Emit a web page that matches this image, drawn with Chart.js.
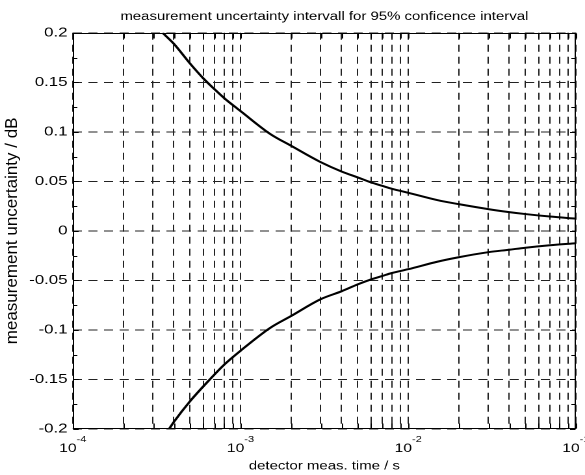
<!DOCTYPE html>
<html>
<head>
<meta charset="utf-8">
<title>measurement uncertainty intervall</title>
<script src="https://cdn.jsdelivr.net/npm/chart.js@4.4.1/dist/chart.umd.min.js"></script>
<style>
    html, body { margin: 0; padding: 0; background: #fff; }
    /* the reference is a horizontally stretched MATLAB figure: draw narrow, then widen */
    #wrap { width: 450px; height: 475px; transform: scaleX(1.3); transform-origin: 0 0; }
</style>
</head>
<body>
<div id="wrap"><canvas id="chart"></canvas></div>
<script>
(function () {
    'use strict';

    const FONT = "'Liberation Sans', Arial, Helvetica, sans-serif";
    const STRETCH = 1.3;

    // ── Data ────────────────────────────────────────────────────
    const upperTime = [3.43e-4, 4e-4, 5e-4, 6e-4, 7e-4, 8e-4, 9e-4, 1e-3, 1.5e-3, 2e-3, 3e-3, 4e-3,
                       5e-3, 6e-3, 7e-3, 8e-3, 1e-2, 1.5e-2, 2e-2, 3e-2, 4e-2, 5e-2, 7e-2, 1e-1];
    const upperDb   = [0.2, 0.189, 0.169, 0.154, 0.143, 0.134, 0.127, 0.121, 0.098, 0.086, 0.0695, 0.060,
                       0.054, 0.049, 0.0455, 0.0425, 0.0385, 0.031, 0.027, 0.022, 0.019, 0.017, 0.0145, 0.0124];

    const lowerTime = [3.75e-4, 4e-4, 5e-4, 6.56e-4, 8e-4, 1e-3, 1.5e-3, 2e-3, 3e-3, 4e-3, 5e-3,
                       6e-3, 7e-3, 8e-3, 1e-2, 1.5e-2, 2e-2, 3e-2, 4e-2, 5e-2, 7e-2, 1e-1];
    const lowerDb   = [-0.2, -0.193, -0.172, -0.15, -0.135, -0.121, -0.098, -0.086, -0.069, -0.061, -0.054,
                       -0.049, -0.0455, -0.0425, -0.0387, -0.031, -0.0266, -0.0215, -0.019, -0.017, -0.0145, -0.0124];

    // ── Axes ────────────────────────────────────────────────────
    const decades     = [1e-4, 1e-3, 1e-2, 1e-1];
    const decadeExp   = ['-4', '-3', '-2', '-1'];
    const decadeSteps = [1, 2, 3, 4, 5, 6, 7, 8, 9];
    const xGridValues = decades.slice(0, -1)
        .flatMap(d => decadeSteps.map(s => d * s))
        .concat(decades[decades.length - 1]);

    const yMin = -0.2, yMax = 0.2, yStep = 0.05;
    const yLabel = 'measurement uncertainty / dB';

    const TEXT = { family: FONT, size: 11.5, weight: 'normal' };
    const GRID = { color: '#222', lineWidth: 1, drawTicks: false };
    const DASH = { display: false, dash: [7, 5] };

    // ── Box, inward ticks, 10^n labels and y label (MATLAB style) ─
    const matlabBox = {
        id: 'matlabBox',
        afterDraw(chart) {
            const { ctx, chartArea: a, scales: { x, y } } = chart;
            const L = Math.round(a.left) + 0.5, R = Math.round(a.right) - 0.5;
            const T = Math.round(a.top) + 0.5,  B = Math.round(a.bottom) - 0.5;
            ctx.save();
            ctx.setLineDash([]);
            ctx.strokeStyle = '#000';
            ctx.lineWidth = 1;
            ctx.strokeRect(L, T, R - L, B - T);

            ctx.beginPath();
            x.ticks.forEach(t => {
                const px = Math.round(x.getPixelForValue(t.value)) + 0.5;
                ctx.moveTo(px, B); ctx.lineTo(px, B - 5);
                ctx.moveTo(px, T); ctx.lineTo(px, T + 5);
            });
            y.ticks.forEach((t, i) => {
                const py = Math.round(y.getPixelForValue(t.value)) + 0.5;
                ctx.moveTo(L, py); ctx.lineTo(L + 4, py);
                ctx.moveTo(R, py); ctx.lineTo(R - 4, py);
                const next = y.ticks[i + 1];
                if (next) {
                    const pm = Math.round(y.getPixelForValue((t.value + next.value) / 2)) + 0.5;
                    ctx.moveTo(L, pm); ctx.lineTo(L + 3, pm);
                    ctx.moveTo(R, pm); ctx.lineTo(R - 3, pm);
                }
            });
            ctx.stroke();

            ctx.fillStyle = '#000';
            ctx.textBaseline = 'alphabetic';
            ctx.textAlign = 'left';
            decades.forEach((v, i) => {
                const px = x.getPixelForValue(v);
                ctx.font = `12px ${FONT}`;
                const w1 = ctx.measureText('10').width;
                ctx.font = `8.5px ${FONT}`;
                const w2 = ctx.measureText(decadeExp[i]).width;
                const x0 = px - (w1 + w2) / 2;
                ctx.font = `12px ${FONT}`;
                ctx.fillText('10', x0, 452);
                ctx.font = `8.5px ${FONT}`;
                ctx.fillText(decadeExp[i], x0 + w1, 442);
            });

            // rotated label: undo the page stretch so glyphs keep their shape
            ctx.translate(12.5 / STRETCH, (a.top + a.bottom) / 2);
            ctx.scale(1 / STRETCH, 1);
            ctx.rotate(-Math.PI / 2);
            ctx.textAlign = 'center';
            ctx.textBaseline = 'middle';
            ctx.font = `17px ${FONT}`;
            ctx.fillText(yLabel, 0, 0);
            ctx.restore();
        },
    };

    const line = (xs, ys) => ({
        data: xs.map((t, i) => ({ x: t, y: ys[i] })),
        borderColor: '#000',
        borderWidth: 2,
        pointRadius: 0,
        fill: false,
        cubicInterpolationMode: 'monotone',
    });

    new Chart(document.getElementById('chart'), {
        type: 'line',
        data: { datasets: [line(upperTime, upperDb), line(lowerTime, lowerDb)] },
        plugins: [matlabBox],
        options: {
            responsive: true,
            maintainAspectRatio: false,
            devicePixelRatio: 2,
            animation: false,
            events: [],
            layout: { padding: { left: 0, right: 7, top: 0, bottom: 0 } },
            plugins: {
                legend: { display: false },
                tooltip: { enabled: false },
                title: {
                    display: true,
                    fullSize: false,
                    text: 'measurement uncertainty intervall for 95% conficence interval',
                    color: '#000',
                    font: TEXT,
                    padding: { top: 10, bottom: 9 },
                },
            },
            scales: {
                x: {
                    type: 'logarithmic',
                    min: 1e-4,
                    max: 1e-1,
                    afterBuildTicks: s => { s.ticks = xGridValues.map(v => ({ value: v })); },
                    afterFit: s => { s.height = 46; },
                    ticks: { display: false },
                    grid: GRID,
                    border: DASH,
                    title: {
                        display: true,
                        text: 'detector meas. time / s',
                        color: '#000',
                        font: TEXT,
                        padding: { top: 0, bottom: 2 },
                    },
                },
                y: {
                    min: yMin,
                    max: yMax,
                    afterFit: s => { s.width = 56; },
                    ticks: {
                        stepSize: yStep,
                        color: '#000',
                        font: { family: FONT, size: 13, weight: 'normal' },
                        padding: 4,
                        callback: v => String(parseFloat(Number(v).toFixed(3))),
                    },
                    grid: GRID,
                    border: DASH,
                    title: { display: false },
                },
            },
        },
    });
})();
</script>
</body>
</html>
